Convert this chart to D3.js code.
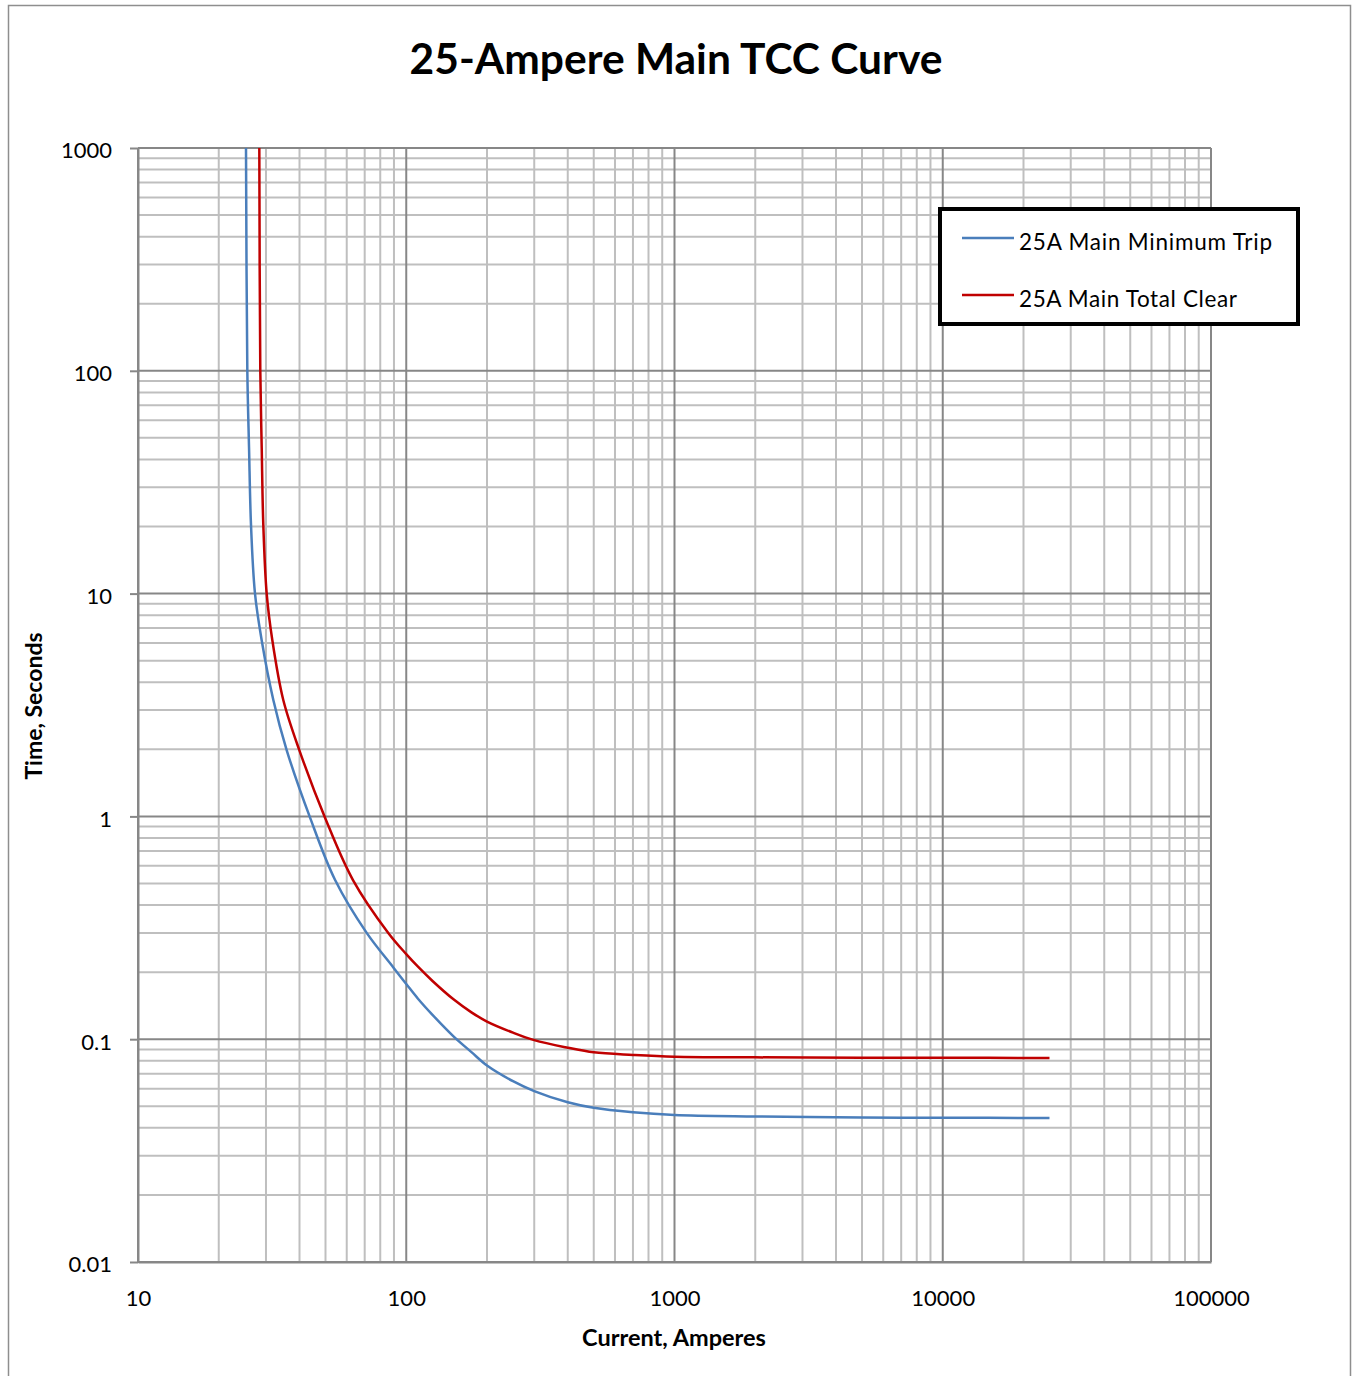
<!DOCTYPE html>
<html><head><meta charset="utf-8">
<script src="https://cdn.jsdelivr.net/npm/d3@7"></script>
<style>
body{margin:0;background:#fff}
svg{display:block}
text{font-family:Lato,"Open Sans",sans-serif;fill:#000}
</style>
</head><body>
<svg id="chart" width="1356" height="1376"></svg>
<script>
const chartTitle = "25-Ampere Main TCC Curve";
const xTitle = "Current, Amperes";
const yTitle = "Time, Seconds";
const xTickValues = [10, 100, 1000, 10000, 100000];
const xTickLabels = ["10", "100", "1000", "10000", "100000"];
const yTickValues = [0.01, 0.1, 1, 10, 100, 1000];
const yTickLabels = ["0.01", "0.1", "1", "10", "100", "1000"];
const seriesNames = ["25A Main Minimum Trip", "25A Main Total Clear"];
const seriesColors = ["#4a7ebb", "#c00000"];

const minTripCurrent = [25.27, 25.56, 25.94, 26.38, 27.3, 28.9, 31.95, 35.8, 43.8, 54.3, 71.2, 89.5, 100, 110.6, 125, 150, 175, 200, 250, 300, 400, 500, 700, 1000, 2000, 5000, 10000, 25000];
const minTripTime    = [1000, 100, 45, 20.3, 10, 6.19, 3.33, 1.99, 0.987, 0.518, 0.30, 0.21, 0.177, 0.152, 0.129, 0.103, 0.0875, 0.0762, 0.0648, 0.0585, 0.0521, 0.0492, 0.047, 0.0457, 0.045, 0.0445, 0.0444, 0.0443];

const totalClearCurrent = [28.33, 28.57, 28.92, 29.32, 30.18, 31.67, 34.8, 39.9, 49.8, 63.3, 85.7, 100, 110.6, 125, 150, 175, 200, 250, 300, 400, 500, 700, 1000, 2000, 5000, 10000, 25000];
const totalClearTime    = [1000, 100, 45, 20.3, 10, 6.19, 3.33, 1.99, 0.987, 0.518, 0.30, 0.241, 0.2115, 0.183, 0.151, 0.132, 0.12, 0.107, 0.099, 0.0916, 0.0873, 0.085, 0.0834, 0.0829, 0.0826, 0.0825, 0.0824];

const svg = d3.select("#chart");
const L = 138, R = 1211, T = 148, B = 1262;
const x = d3.scaleLog().domain([10, 100000]).range([L, R]);
const y = d3.scaleLog().domain([0.01, 1000]).range([B, T]);

// outer border
svg.append("rect").attr("x", 8.5).attr("y", 5.5).attr("width", 1342).attr("height", 1400)
  .attr("fill", "#fff").attr("stroke", "#8e8e8e").attr("stroke-width", 1.5);

// grid values
function minorVals(lo, hi) {
  const out = [];
  for (let d = lo; d < hi; d *= 10) for (let k = 2; k <= 9; k++) out.push(+(k * d).toPrecision(6));
  return out;
}
const xMinor = minorVals(10, 100000);
const yMinor = minorVals(0.01, 1000);

const grid = svg.append("g");
grid.selectAll(".vx").data(xMinor).join("line")
  .attr("x1", d => x(d)).attr("x2", d => x(d)).attr("y1", T).attr("y2", B)
  .attr("stroke", "#bfbfbf").attr("stroke-width", 2);
grid.selectAll(".hy").data(yMinor).join("line")
  .attr("x1", L).attr("x2", R).attr("y1", d => y(d)).attr("y2", d => y(d))
  .attr("stroke", "#bfbfbf").attr("stroke-width", 2);
grid.selectAll(".vX").data(xTickValues).join("line")
  .attr("x1", d => x(d)).attr("x2", d => x(d)).attr("y1", T).attr("y2", B)
  .attr("stroke", "#878787").attr("stroke-width", 2);
grid.selectAll(".hY").data(yTickValues).join("line")
  .attr("x1", L).attr("x2", R).attr("y1", d => y(d)).attr("y2", d => y(d))
  .attr("stroke", "#878787").attr("stroke-width", 2);

// axes
const yAxis = d3.axisLeft(y).tickValues(yTickValues).tickSizeInner(8).tickSizeOuter(0).tickPadding(18)
  .tickFormat((d, i) => yTickLabels[i]);
const gy = svg.append("g").attr("transform", `translate(${L},0)`).call(yAxis);
gy.select(".domain").attr("stroke", "#878787").attr("stroke-width", 2);
gy.selectAll(".tick line").attr("stroke", "#878787").attr("stroke-width", 2);
gy.selectAll(".tick text").attr("font-size", 22).attr("dy", "0.45em").style("font-family", "Lato");

const xAxis = d3.axisBottom(x).tickValues(xTickValues).tickSizeInner(0).tickSizeOuter(0).tickPadding(0)
  .tickFormat((d, i) => xTickLabels[i]);
const gx = svg.append("g").attr("transform", `translate(0,${B})`).call(xAxis);
gx.select(".domain").attr("stroke", "#878787").attr("stroke-width", 2);
gx.selectAll(".tick text").attr("font-size", 22).attr("y", 44).attr("dy", 0).style("font-family", "Lato");

// curves
const line = d3.line().x(d => x(d[0])).y(d => y(d[1])).curve(d3.curveCatmullRom.alpha(0.5));
const series = [
  d3.zip(minTripCurrent, minTripTime),
  d3.zip(totalClearCurrent, totalClearTime)
];
svg.selectAll(".curve").data(series).join("path")
  .attr("d", line).attr("fill", "none")
  .attr("stroke", (d, i) => seriesColors[i]).attr("stroke-width", 2.5);

// titles
svg.append("text").attr("x", 676).attr("y", 74).attr("text-anchor", "middle")
  .attr("font-size", 42.5).attr("font-weight", "bold").text(chartTitle);
svg.append("text").attr("x", 674).attr("y", 1346).attr("text-anchor", "middle")
  .attr("font-size", 23.5).attr("font-weight", "bold").text(xTitle);
svg.append("text").attr("transform", "translate(42,706) rotate(-90)").attr("text-anchor", "middle")
  .attr("font-size", 23).attr("font-weight", "bold").text(yTitle);

// legend
const lg = svg.append("g");
lg.append("rect").attr("x", 940).attr("y", 209).attr("width", 358).attr("height", 115)
  .attr("fill", "#fff").attr("stroke", "#000").attr("stroke-width", 4);
const rows = [238, 295];
const legendWidths = [253, 218];
seriesNames.forEach((name, i) => {
  lg.append("line").attr("x1", 962).attr("x2", 1014).attr("y1", rows[i]).attr("y2", rows[i])
    .attr("stroke", seriesColors[i]).attr("stroke-width", 2.5);
  lg.append("text").attr("x", 1019).attr("y", rows[i] + 12).attr("font-size", 22.5)
    .attr("textLength", legendWidths[i]).attr("lengthAdjust", "spacing").text(name);
});
</script>
</body></html>
